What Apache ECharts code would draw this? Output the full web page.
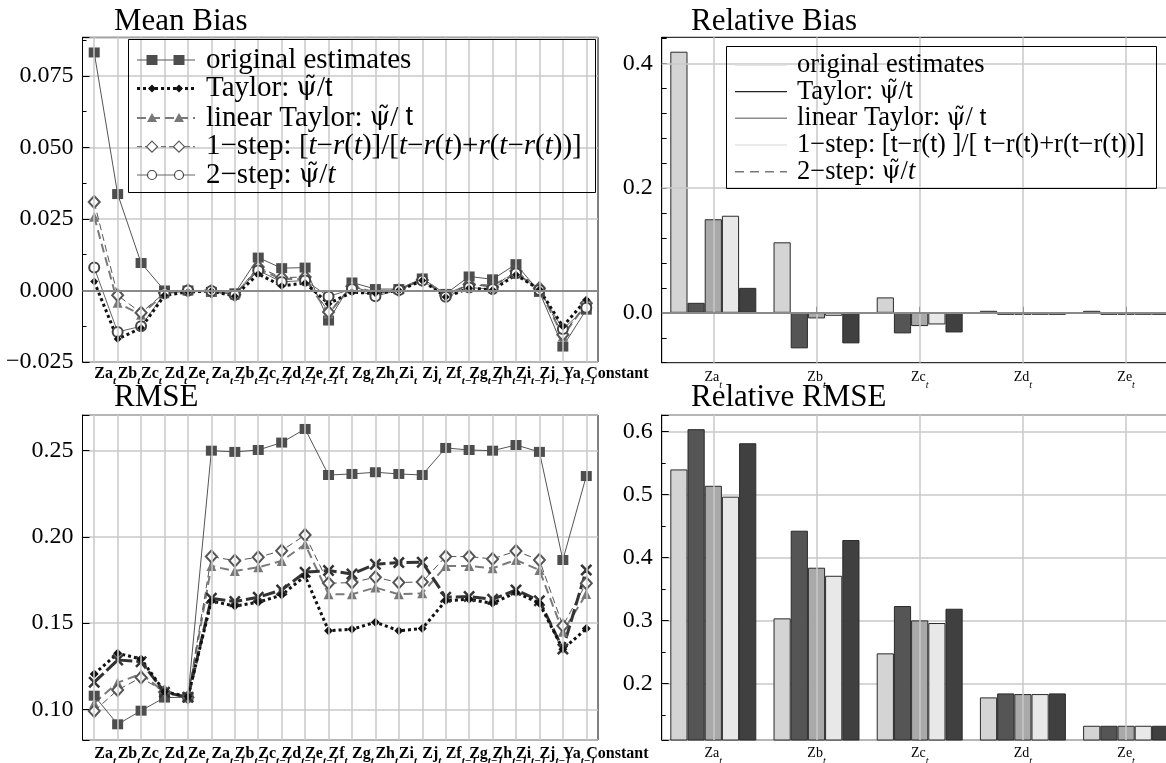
<!DOCTYPE html>
<html><head><meta charset="utf-8">
<script src="https://cdn.jsdelivr.net/npm/echarts@6/dist/echarts.min.js"></script>
<style>html,body{margin:0;padding:0;background:#fff}#c{width:1166px;height:763px}</style>
</head><body><div id="c"></div><script>
// ---------- DATA ----------
const categories = ['Za_t','Zb_t','Zc_t','Zd_t','Ze_t','Za_t-1','Zb_t-1','Zc_t-1','Zd_t-1','Ze_t-1','Zf_t','Zg_t','Zh_t','Zi_t','Zj_t','Zf_t-1','Zg_t-1','Zh_t-1','Zi_t-1','Zj_t-1','Ya_t-1','Constant'];
const relCategories = ['Za_t','Zb_t','Zc_t','Zd_t','Ze_t'];
const methodNames = ['original estimates','Taylor','linear Taylor','1-step','2-step'];

const biasOriginal  = [0.0832,0.0337,0.0096,0.0000,0.0000,-0.0005,-0.0010,0.0115,0.0078,0.0080,-0.0105,0.0028,0.0005,0.0005,0.0042,-0.0012,0.0049,0.0039,0.0092,-0.0005,-0.0196,-0.0067];
const biasTaylor    = [0.0031,-0.0170,-0.0131,-0.0017,-0.0005,-0.0002,-0.0020,0.0058,0.0016,0.0026,-0.0046,-0.0006,-0.0010,0.0000,0.0035,-0.0023,0.0008,0.0002,0.0055,0.0003,-0.0126,-0.0032];
const biasLinTaylor = [0.0258,-0.0043,-0.0085,-0.0010,0.0000,-0.0003,-0.0015,0.0075,0.0040,0.0040,-0.0080,0.0015,-0.0007,0.0003,0.0040,-0.0015,0.0020,0.0018,0.0060,0.0005,-0.0160,-0.0045];
const bias1Step     = [0.0309,-0.0017,-0.0078,-0.0008,0.0000,-0.0003,-0.0015,0.0082,0.0045,0.0047,-0.0075,0.0015,-0.0012,0.0002,0.0037,-0.0018,0.0022,0.0012,0.0068,0.0008,-0.0155,-0.0045];
const bias2Step     = [0.0080,-0.0145,-0.0125,-0.0010,0.0000,-0.0002,-0.0015,0.0070,0.0030,0.0035,-0.0021,0.0005,-0.0020,0.0002,0.0035,-0.0022,0.0010,0.0005,0.0060,0.0002,-0.0135,-0.0060];

const rmseOriginal  = [0.1079,0.0913,0.0992,0.1068,0.1070,0.2500,0.2493,0.2504,0.2547,0.2626,0.2359,0.2365,0.2375,0.2365,0.2359,0.2516,0.2504,0.2500,0.2533,0.2493,0.1866,0.2353];
const rmseTaylor    = [0.1205,0.1325,0.1292,0.1102,0.1073,0.1628,0.1599,0.1621,0.1663,0.1773,0.1456,0.1464,0.1505,0.1456,0.1468,0.1630,0.1638,0.1615,0.1677,0.1615,0.1348,0.1468];
const rmseLinTaylor = [0.1035,0.1155,0.1205,0.1100,0.1070,0.1831,0.1802,0.1824,0.1860,0.1957,0.1667,0.1667,0.1706,0.1667,0.1673,0.1831,0.1831,0.1818,0.1866,0.1808,0.1450,0.1669];
const rmse1Step     = [0.0990,0.1112,0.1184,0.1100,0.1070,0.1886,0.1862,0.1882,0.1920,0.2011,0.1731,0.1735,0.1766,0.1735,0.1739,0.1886,0.1886,0.1872,0.1918,0.1866,0.1485,0.1731];
const rmse2Step     = [0.1157,0.1286,0.1276,0.1099,0.1070,0.1644,0.1625,0.1650,0.1692,0.1795,0.1805,0.1785,0.1841,0.1851,0.1853,0.1650,0.1654,0.1638,0.1692,0.1630,0.1350,0.1808];

const relBiasOriginal  = [0.4186,0.1130,0.0247,0.0008,0.0005];
const relBiasTaylor    = [0.0160,-0.0570,-0.0330,-0.0020,-0.0010];
const relBiasLinTaylor = [0.1500,-0.0090,-0.0213,-0.0015,-0.0010];
const relBias1Step     = [0.1556,-0.0048,-0.0187,-0.0015,-0.0010];
const relBias2Step     = [0.0400,-0.0490,-0.0315,-0.0020,-0.0010];

const relRmseOriginal  = [0.5400,0.3033,0.2477,0.1777,0.1326];
const relRmseTaylor    = [0.6040,0.4426,0.3229,0.1840,0.1326];
const relRmseLinTaylor = [0.5140,0.3838,0.3001,0.1830,0.1326];
const relRmse1Step     = [0.4967,0.3710,0.2959,0.1830,0.1326];
const relRmse2Step     = [0.5816,0.4278,0.3186,0.1840,0.1326];

// ---------- STYLE / LAYOUT ----------
const SERIF = '"Liberation Serif","Times New Roman",serif';
const SANS = '"Liberation Sans",Arial,sans-serif';
const GREEK = '"DejaVu Serif",serif';
const GRID_COLOR = '#c9c9c9';
const barFill = ['#d4d4d4','#555555','#a9a9a9','#e8e8e8','#404040'];

function xLab(c){ const p=c.split('_'); return p.length<2 ? '{m|'+c+'}' : '{m|'+p[0]+'}{s|'+p[1].replace('-','\u2212')+'}'; }
const richLeft = {
  m:{fontFamily:SERIF,fontWeight:'bold',fontSize:16,color:'#000',lineHeight:18,verticalAlign:'top'},
  s:{fontFamily:SERIF,fontWeight:'bold',fontStyle:'italic',fontSize:11,color:'#000',lineHeight:21,verticalAlign:'bottom'}
};
const richRight = {
  m:{fontFamily:SERIF,fontSize:14,color:'#000',lineHeight:16,verticalAlign:'top'},
  s:{fontFamily:SERIF,fontStyle:'italic',fontSize:10,color:'#000',lineHeight:20,verticalAlign:'bottom'}
};
function yFmt(step,dec){ return v=>{ const k=v/step; if(Math.abs(k-Math.round(k))>1e-6) return ''; return (v<-1e-12?'\u2212':'')+Math.abs(v).toFixed(dec); }; }

const grids = [
  {left:82.5, top:37.3, width:515.5, height:324.7},
  {left:661.7, top:37.3, width:516, height:325.4},
  {left:82.5, top:415, width:515.5, height:325},
  {left:661.7, top:415, width:516, height:325}
].map(g=>Object.assign(g,{show:true,borderColor:'#000',borderWidth:1,backgroundColor:'transparent',containLabel:false,outerBoundsMode:'none'}));

function catAxis(gi, data, left, margin){
  return {gridIndex:gi,type:'category',data:data,boundaryGap:true,
    axisLine:{show:false},
    axisTick:{show:!left,inside:true,alignWithLabel:true,length:6,lineStyle:{color:'#000'}},
    splitLine:{show:false},
    axisLabel:{interval:0,hideOverlap:false,margin:margin,align:left?'left':'center',
      formatter:xLab,rich:left?richLeft:richRight}};
}
const LBL = {margin:9,fontFamily:SERIF,fontSize:24,color:'#000'};
function valAxis(gi, extra){
  return Object.assign({gridIndex:gi,type:'value',
    axisLine:{show:true,lineStyle:{color:'#000'}},
    axisTick:{show:true,inside:true,length:7,lineStyle:{color:'#000'}},
    splitLine:{show:true,lineStyle:{color:GRID_COLOR,width:1.5}}}, extra);
}

const yAxes = [
  valAxis(0,{min:-0.025,max:0.0885,interval:0.025,minorTick:{show:true,splitNumber:2,length:4,lineStyle:{color:'#000'}},axisLabel:Object.assign({formatter:yFmt(0.025,3)},LBL)}),
  valAxis(1,{min:-0.08,max:0.4417,interval:0.04,splitLine:{show:false},axisTick:{show:true,inside:true,length:5,lineStyle:{color:'#000'}},axisLabel:Object.assign({formatter:yFmt(0.2,1)},LBL)}),
  valAxis(2,{min:0.0822,max:0.2707,splitNumber:4,axisLabel:Object.assign({formatter:yFmt(0.05,2)},LBL)}),
  valAxis(3,{min:0.11,max:0.6265,splitNumber:5,minorTick:{show:true,splitNumber:2,length:4,lineStyle:{color:'#000'}},axisLabel:Object.assign({formatter:yFmt(0.1,1)},LBL)})
];
const xAxes = [
  catAxis(0,categories,true,4),
  catAxis(1,relCategories,false,8),
  catAxis(2,categories,true,6),
  catAxis(3,relCategories,false,6)
];

// background guide lines (gridlines at category centres, zero lines)
function guide(gi, cats, hLines){
  const d = cats.map((c,i)=>({xAxis:i}));
  hLines.forEach(h=>d.push({yAxis:h.v,lineStyle:{color:h.c,width:h.w,type:'solid'}}));
  return {type:'line',xAxisIndex:gi,yAxisIndex:gi,data:[],z:1,silent:true,
    markLine:{silent:true,symbol:'none',animation:false,label:{show:false},emphasis:{disabled:true},
      lineStyle:{color:GRID_COLOR,width:1.5,type:'solid'},data:d}};
}

const xPath = 'path://M1.5,0 L5,3.5 L8.5,0 L10,1.5 L6.5,5 L10,8.5 L8.5,10 L5,6.5 L1.5,10 L0,8.5 L3.5,5 L0,1.5 Z';
function lineSeries(gi, name, data, kind, rmse){
  const base = {name:name,type:'line',xAxisIndex:gi,yAxisIndex:gi,data:data,silent:true,animation:false,z:3};
  const st = {
    orig:{symbol:'rect',symbolSize:[11,10],itemStyle:{color:'#4d4d4d'},lineStyle:{color:'#555',width:1}},
    taylor:{symbol:'diamond',symbolSize:rmse?9:8,itemStyle:{color:'#111'},lineStyle:{color:'#111',width:3,type:[3,3]}},
    lin:{symbol:'triangle',symbolSize:10,itemStyle:{color:'#777'},lineStyle:{color:'#7a7a7a',width:2,type:[9,5]}},
    one:{symbol:'emptyDiamond',symbolSize:[11,12],itemStyle:{color:'#555',borderWidth:1.2},lineStyle:{color:'#555',width:1,type:[7,4]}},
    two:rmse?{symbol:xPath,symbolSize:12,itemStyle:{color:'#333'},lineStyle:{color:'#333',width:3,type:[13,4]}}
            :{symbol:'emptyCircle',symbolSize:10,itemStyle:{color:'#444',borderWidth:1.2},lineStyle:{color:'#666',width:1}}
  }[kind];
  return Object.assign(base, st);
}
function barSeries(gi, name, data, i){
  return {name:name,type:'bar',xAxisIndex:gi,yAxisIndex:gi,data:data,silent:true,animation:false,z:3,
    barGap:'0%',barCategoryGap:'16.7%',barMinHeight:gi===1?2:0,itemStyle:{color:barFill[i],borderColor:'#2a2a2a',borderWidth:1}};
}

const series = [
  guide(0,categories,[{v:0,c:'#8a8a8a',w:2}]),
  guide(1,relCategories,[{v:0.2,c:GRID_COLOR,w:1.5},{v:0.4,c:GRID_COLOR,w:1.5},{v:0,c:'#8a8a8a',w:2}]),
  guide(2,categories,[]),
  guide(3,relCategories,[]),
  lineSeries(0,methodNames[0],biasOriginal,'orig'),
  lineSeries(0,methodNames[2],biasLinTaylor,'lin'),
  lineSeries(0,methodNames[3],bias1Step,'one'),
  lineSeries(0,methodNames[4],bias2Step,'two'),
  lineSeries(0,methodNames[1],biasTaylor,'taylor'),
  lineSeries(2,methodNames[0],rmseOriginal,'orig',true),
  lineSeries(2,methodNames[2],rmseLinTaylor,'lin',true),
  lineSeries(2,methodNames[3],rmse1Step,'one',true),
  lineSeries(2,methodNames[4],rmse2Step,'two',true),
  lineSeries(2,methodNames[1],rmseTaylor,'taylor',true),
  barSeries(1,methodNames[0],relBiasOriginal,0),
  barSeries(1,methodNames[1],relBiasTaylor,1),
  barSeries(1,methodNames[2],relBiasLinTaylor,2),
  barSeries(1,methodNames[3],relBias1Step,3),
  barSeries(1,methodNames[4],relBias2Step,4),
  barSeries(3,methodNames[0],relRmseOriginal,0),
  barSeries(3,methodNames[1],relRmseTaylor,1),
  barSeries(3,methodNames[2],relRmseLinTaylor,2),
  barSeries(3,methodNames[3],relRmse1Step,3),
  barSeries(3,methodNames[4],relRmse2Step,4)
];

// ---------- LEGENDS (graphic) ----------
const PSI = '{p|\u03C8\u0303}';
function richFor(size){
  return {
    n:{fontFamily:SERIF,fontSize:size,fill:'#000'},
    i:{fontFamily:SERIF,fontSize:size,fontStyle:'italic',fill:'#000'},
    s:{fontFamily:SANS,fontSize:size*0.93,fill:'#000'},
    p:{fontFamily:GREEK,fontSize:size*0.9,fill:'#000'}
  };
}
const leftLegendTexts = [
  '{n|original estimates}',
  '{n|Taylor: }'+PSI+'{n|/}{s|t}',
  '{n|linear Taylor: }'+PSI+'{n|/ }{s|t}',
  '{n|1\u2212step: [}{i|t}{n|\u2212}{i|r}{n|(}{i|t}{n|)]/[}{i|t}{n|\u2212}{i|r}{n|(}{i|t}{n|)+}{i|r}{n|(}{i|t}{n|\u2212}{i|r}{n|(}{i|t}{n|))]}',
  '{n|2\u2212step: }'+PSI+'{n|/}{i|t}'
];
const rightLegendTexts = [
  '{n|original estimates}',
  '{n|Taylor: }'+PSI+'{n|/}{s|t}',
  '{n|linear Taylor: }'+PSI+'{n|/ }{s|t}',
  '{n|1\u2212step: [}{s|t}{n|\u2212r(}{s|t}{n|) ]/[ }{s|t}{n|\u2212r(}{s|t}{n|)+r(}{s|t}{n|\u2212r(}{s|t}{n|))]}',
  '{n|2\u2212step: }'+PSI+'{n|/}{i|t}'
];
function marker(kind, cx, cy){
  switch(kind){
    case 'orig': return {type:'rect',shape:{x:cx-5.5,y:cy-5,width:11,height:10},style:{fill:'#4d4d4d'}};
    case 'taylor': return {type:'polygon',shape:{points:[[cx,cy-4],[cx+4,cy],[cx,cy+4],[cx-4,cy]]},style:{fill:'#111'}};
    case 'lin': return {type:'polygon',shape:{points:[[cx,cy-5],[cx+5,cy+4],[cx-5,cy+4]]},style:{fill:'#777'}};
    case 'one': return {type:'polygon',shape:{points:[[cx,cy-5.5],[cx+5.5,cy],[cx,cy+5.5],[cx-5.5,cy]]},style:{fill:'#fff',stroke:'#555',lineWidth:1.2}};
    case 'two': return {type:'circle',shape:{cx:cx,cy:cy,r:4.5},style:{fill:'#fff',stroke:'#444',lineWidth:1.2}};
  }
}
const leftKinds = ['orig','taylor','lin','one','two'];
const leftLineStyles = [
  {stroke:'#555',lineWidth:1},
  {stroke:'#111',lineWidth:3,lineDash:[3,3]},
  {stroke:'#7a7a7a',lineWidth:2,lineDash:[9,5]},
  {stroke:'#555',lineWidth:1,lineDash:[5,3]},
  {stroke:'#666',lineWidth:1}
];
const rightLineStyles = [
  {stroke:'#dcdcdc',lineWidth:1.5},
  {stroke:'#222',lineWidth:1.2},
  {stroke:'#8c8c8c',lineWidth:1.5},
  {stroke:'#e4e4e4',lineWidth:1.5},
  {stroke:'#777',lineWidth:1.5,lineDash:[9,6]}
];
const graphics = [];
// left legend
graphics.push({type:'rect',z:100,silent:true,shape:{x:128.5,y:39.5,width:467,height:153},style:{fill:'none',stroke:'#000',lineWidth:1}});
const lRows=[60,88.5,118,146.7,175];
lRows.forEach((y,i)=>{
  graphics.push({type:'polyline',z:100,silent:true,shape:{points:[[137,y],[195,y]]},style:Object.assign({fill:'none'},leftLineStyles[i])});
  [152,179].forEach(cx=>graphics.push(Object.assign(marker(leftKinds[i],cx,y),{z:101,silent:true})));
  graphics.push({type:'text',z:101,silent:true,x:206,y:y,style:{text:leftLegendTexts[i],rich:richFor(29),fontFamily:SERIF,fontSize:29,fill:'#000',verticalAlign:'middle',align:'left'}});
});
// right legend
graphics.push({type:'rect',z:100,silent:true,shape:{x:726.5,y:46.5,width:430,height:142},style:{fill:'none',stroke:'#000',lineWidth:1}});
const rRows=[65,91.7,118.3,145,171.7];
rRows.forEach((y,i)=>{
  graphics.push({type:'polyline',z:100,silent:true,shape:{points:[[735,y],[787,y]]},style:Object.assign({fill:'none'},rightLineStyles[i])});
  graphics.push({type:'text',z:101,silent:true,x:797,y:y,style:{text:rightLegendTexts[i],rich:richFor(26.5),fontFamily:SERIF,fontSize:26.5,fill:'#000',verticalAlign:'middle',align:'left'}});
});

const titleStyle = {fontFamily:SERIF,fontSize:31,fontWeight:'normal',color:'#000'};
const option = {
  backgroundColor:'#fff',
  animation:false,
  title:[
    {text:'Mean Bias',left:114,top:6,textStyle:titleStyle,padding:0},
    {text:'Relative Bias',left:691,top:6,textStyle:titleStyle,padding:0},
    {text:'RMSE',left:114,top:382,textStyle:titleStyle,padding:0},
    {text:'Relative RMSE',left:691,top:382,textStyle:titleStyle,padding:0}
  ],
  grid:grids,
  xAxis:xAxes,
  yAxis:yAxes,
  series:series,
  graphic:{elements:graphics}
};
const chart = echarts.init(document.getElementById('c'),null,{renderer:'canvas'});
chart.setOption(option);
</script></body></html>
